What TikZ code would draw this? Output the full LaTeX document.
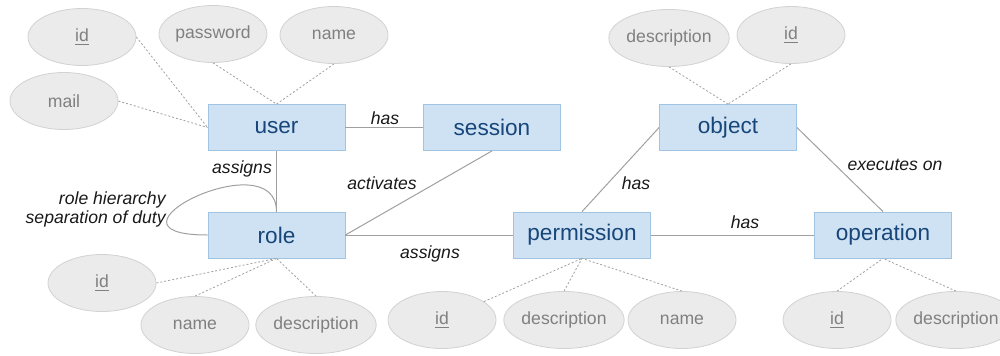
\documentclass[tikz,border=0pt]{standalone}
\usepackage{fontspec}
\setmainfont{Liberation Sans}
\usepackage{tikz}
\usetikzlibrary{shapes.geometric}
\definecolor{boxfill}{RGB}{207, 226, 243}
\definecolor{boxline}{RGB}{160, 196, 226}
\definecolor{boxtext}{RGB}{23, 70, 122}
\definecolor{attfill}{RGB}{235, 235, 235}
\definecolor{attline}{RGB}{210, 210, 210}
\definecolor{atttext}{RGB}{128, 128, 128}
\definecolor{linkgray}{RGB}{160, 160, 160}
\tikzset{
  entity/.style = {draw = boxline, fill = boxfill, text = boxtext, minimum width = 68.5pt, minimum height = 23pt, inner sep = 0pt, font = \fontsize{11.3}{13}\selectfont},
  attr/.style = {ellipse, draw = attline, fill = attfill, text = atttext, minimum width = 54pt, minimum height = 28.5pt, inner sep = 0pt, font = \fontsize{8.8}{10}\selectfont},
  rel/.style = {draw = linkgray, line width = 0.5pt},
  attlink/.style = {draw = linkgray, line width = 0.4pt, dash pattern = on 1pt off 1pt},
  lbl/.style = {font = \fontsize{8.8}{10}\selectfont\itshape, text = black!90, inner sep = 0pt}
}

\begin{document}
\begin{tikzpicture}[x = 0.5pt, y = -0.5pt]
\useasboundingbox (0,0) rectangle (1000,355);

\node[attr] (uid) at (82, 37) {\underline{id}};
\node[attr] (upass) at (213, 34) {password};
\node[attr] (uname) at (334, 35) {name};
\node[attr] (umail) at (64, 101) {mail};
\node[attr] (bdesc) at (669, 38) {description};
\node[attr] (bid) at (791, 35) {\underline{id}};
\node[attr] (rid) at (102, 283) {\underline{id}};
\node[attr] (rname) at (195, 325) {name};
\node[attr] (rdesc) at (316, 325) {description};
\node[attr] (pid) at (442, 320) {\underline{id}};
\node[attr] (pdesc) at (564, 320) {description};
\node[attr] (pname) at (682, 320) {name};
\node[attr] (oid) at (837, 320) {\underline{id}};
\node[attr] (odesc) at (956, 320) {description};

\node[entity] (user) at (276.5, 127.5) {user};
\node[entity] (session) at (492, 127.5) {session};
\node[entity] (object) at (728, 127.5) {object};
\node[entity] (role) at (276.5, 235) {role};
\node[entity] (permission) at (582, 235) {permission};
\node[entity] (operation) at (883, 235) {operation};

\draw[attlink] (uid.east) -- (user.west);
\draw[attlink] (umail.east) -- (user.west);
\draw[attlink] (upass.south) -- (user.north);
\draw[attlink] (uname.south) -- (user.north);
\draw[attlink] (bdesc.south) -- (object.north);
\draw[attlink] (bid.south) -- (object.north);
\draw[attlink] (rid.east) -- (role.south);
\draw[attlink] (rname.north) -- (role.south);
\draw[attlink] (rdesc.north) -- (role.south);
\draw[attlink] (pid) -- (permission.south);
\draw[attlink] (pdesc.north) -- (permission.south);
\draw[attlink] (pname.north) -- (permission.south);
\draw[attlink] (oid.north) -- (operation.south);
\draw[attlink] (odesc.north) -- (operation.south);

\draw[rel] (user.east) -- (session.west);
\draw[rel] (user.south) -- (role.north);
\draw[rel] (session.south) -- (role.east);
\draw[rel] (role.east) -- (permission.west);
\draw[rel] (permission.north) -- (object.west);
\draw[rel] (object.east) -- (operation.north);
\draw[rel] (permission.east) -- (operation.west);
\draw[rel] (role.north) .. controls (276.5, 140) and (85, 235) .. (role.west);

\node[lbl] (hasus) at (385, 118) {has};
\node[lbl] (assignsur) at (242, 169) {assigns};
\node[lbl] (activates) at (382, 183) {activates};
\node[lbl] (assignsrp) at (430, 254) {assigns};
\node[lbl] (haspo) at (636, 183) {has};
\node[lbl] (executes) at (895, 165) {executes on};
\node[lbl] (haspop) at (745, 222) {has};
\node[lbl, anchor = east] (hierarchy) at (166, 200) {role hierarchy};
\node[lbl, anchor = east] (separation) at (166, 219) {separation of duty};
\end{tikzpicture}
\end{document}
